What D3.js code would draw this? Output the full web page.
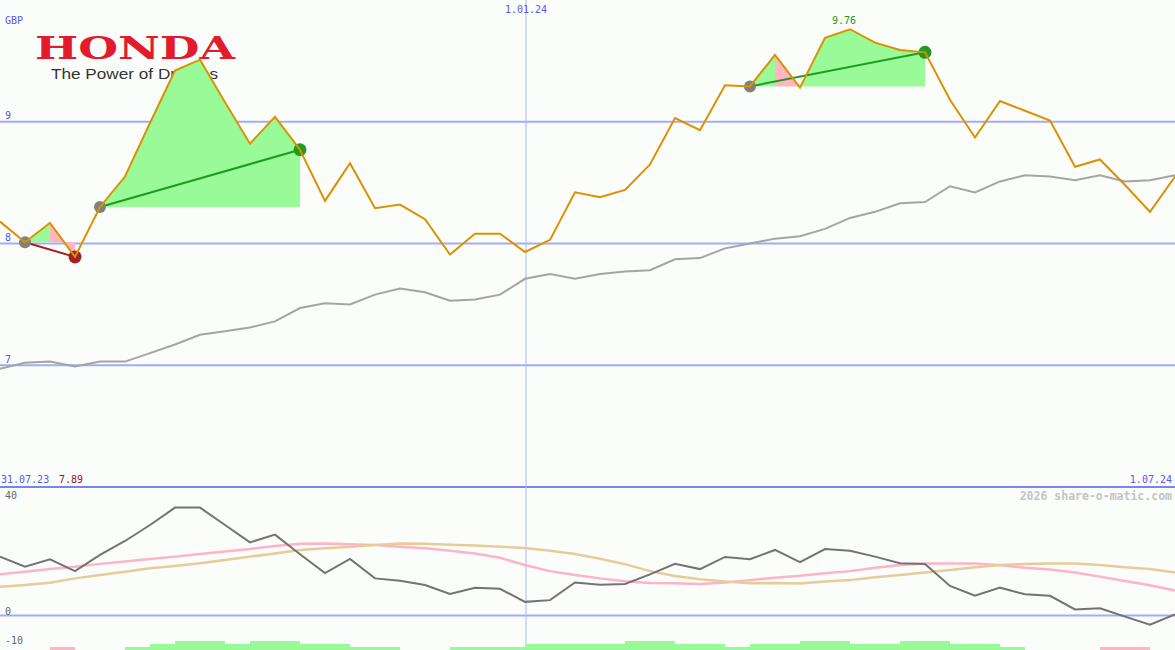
<!DOCTYPE html>
<html>
<head>
<meta charset="utf-8">
<script src="https://cdn.jsdelivr.net/npm/d3@7"></script>
<style>
  html, body { margin: 0; padding: 0; background: #fbfdfb; overflow: hidden; }
  svg { display: block; }
  text { font-family: 'DejaVu Sans Mono', monospace; font-size: 10px; }
</style>
</head>
<body>
<svg></svg>
<script>
// weekly close, GBP
const price = [8.18, 8.01, 8.17, 7.89, 8.30, 8.55, 8.99, 9.42, 9.51, 9.16, 8.82, 9.04, 8.77, 8.35, 8.66, 8.29, 8.32,
  8.20, 7.91, 8.08, 8.08, 7.93, 8.03, 8.42, 8.38, 8.44, 8.65, 9.03, 8.93, 9.30, 9.29, 9.55, 9.28,
  9.69, 9.76, 9.65, 9.59, 9.57, 9.18, 8.87, 9.17, 9.09, 9.01, 8.63, 8.69, 8.48, 8.26, 8.55]
// moving average (grey)
const average = [6.97, 7.02, 7.03, 6.99, 7.03, 7.03, 7.10, 7.17, 7.25, 7.28, 7.31, 7.36, 7.47, 7.51, 7.50, 7.58, 7.63,
  7.60, 7.53, 7.54, 7.58, 7.71, 7.75, 7.71, 7.75, 7.77, 7.78, 7.87, 7.88, 7.96, 8.00, 8.04, 8.06,
  8.12, 8.21, 8.26, 8.33, 8.34, 8.47, 8.42, 8.51, 8.56, 8.55, 8.52, 8.56, 8.51, 8.52, 8.56]
// lower panel
const momentum = [20.3, 16.8, 19.4, 15.3, 20.9, 25.7, 31.2, 37.2, 37.2, 31.2, 25.2, 27.9, 21.1, 14.6, 19.5, 12.8, 12.0,
  10.5, 7.4, 9.6, 9.2, 4.7, 5.3, 11.4, 10.6, 10.9, 14.2, 17.8, 16.0, 20.2, 19.4, 22.6, 18.4,
  22.9, 22.3, 20.3, 18.0, 17.8, 10.2, 6.8, 9.6, 7.3, 6.8, 2.1, 2.5, -0.4, -3.2, 0.4]
const fastLine = [14.2, 15.1, 16.0, 16.8, 17.8, 18.6, 19.5, 20.3, 21.2, 22.1, 22.9, 24.0, 24.7, 24.8, 24.6, 24.3, 23.7,
  23.2, 22.3, 21.4, 19.9, 17.4, 15.3, 14.0, 12.8, 11.8, 11.2, 11.1, 10.9, 11.4, 12.2, 13.0, 13.7,
  14.6, 15.3, 16.5, 17.4, 17.9, 17.9, 17.9, 17.3, 16.5, 15.9, 14.8, 13.4, 11.9, 10.4, 8.6]
const slowLine = [9.9, 10.5, 11.3, 12.8, 14.0, 15.1, 16.3, 17.1, 18.0, 19.1, 20.3, 21.4, 22.6, 23.2, 23.7, 24.3, 24.8,
  24.7, 24.4, 24.1, 23.7, 23.3, 22.3, 21.2, 19.6, 17.7, 15.3, 13.6, 12.5, 11.7, 11.1, 11.2, 11.0,
  11.7, 12.2, 13.2, 14.0, 14.8, 15.7, 16.6, 17.4, 17.8, 17.9, 17.9, 17.4, 16.6, 16.0, 14.8]
// bars between weeks (positive green, negative pink)
const histogram = [0, 0, -1, 0, 0, 1, 2, 3, 3, 2, 3, 3, 2, 2, 1, 1, 0, 0, 1, 1, 1, 2, 2, 2, 2, 3, 3, 2, 2, 1,
  2, 2, 3, 3, 2, 2, 3, 3, 2, 2, 1, 0, 0, 0, -1, -1, 0]

const priceTicks = [9, 8, 7]
const lowerTicks = [40, 0, -10]
// start / end week of each marked move
const signals = [[1, 3], [4, 12], [30, 37]]
const currency = 'GBP'
const startLabel = '31.07.23'
const midLabel = '1.01.24'
const midIndex = 21.04
const endLabel = '1.07.24'
const credit = '2026 share-o-matic.com'

const width = 1175
const height = 650
const gridColor = '#a3adf2'
const blueText = '#5858f0'

const svg = d3.select('svg').attr('width', width).attr('height', height)
svg.append('rect').attr('width', width).attr('height', height).attr('fill', '#fbfdfb')

const x = d3.scaleLinear().domain([0, price.length - 1]).range([0, width])
const yP = d3.scaleLinear().domain([6, 10]).range([487, 0])
const yL = d3.scaleLinear().domain([0, 40]).range([615.5, 499.5])
const yH = d3.scaleLinear().domain([0, 3]).range([650, 641])

// logo
svg.append('text').text('HONDA')
  .attr('x', 35).attr('y', 58.5)
  .attr('textLength', 200).attr('lengthAdjust', 'spacingAndGlyphs')
  .style('font-family', "'DejaVu Serif', serif").style('font-weight', 'bold').style('font-size', '31px')
  .attr('fill', '#e31c2d')
svg.append('text').text('The Power of Dreams')
  .attr('x', 51).attr('y', 78.5)
  .attr('textLength', 167).attr('lengthAdjust', 'spacingAndGlyphs')
  .style('font-family', "'Liberation Sans', Arial, sans-serif").style('font-size', '14px')
  .attr('fill', '#333')

// grid
priceTicks.forEach(v => {
  svg.append('line').attr('x1', 0).attr('x2', width).attr('y1', yP(v)).attr('y2', yP(v))
    .attr('stroke', gridColor).attr('stroke-width', 2)
  svg.append('text').text(v).attr('x', 5).attr('y', yP(v) - 2.5).attr('fill', blueText)
})
svg.append('line').attr('x1', 0).attr('x2', width).attr('y1', yL(0)).attr('y2', yL(0))
  .attr('stroke', gridColor).attr('stroke-width', 2)
svg.append('line').attr('x1', 0).attr('x2', width).attr('y1', yP(6)).attr('y2', yP(6))
  .attr('stroke', '#7686ee').attr('stroke-width', 2)
svg.append('line').attr('x1', x(midIndex)).attr('x2', x(midIndex)).attr('y1', 0).attr('y2', height)
  .attr('stroke', '#a8b4f6').attr('stroke-width', 1)

lowerTicks.forEach(v => {
  svg.append('text').text(v).attr('x', 5).attr('y', Math.min(yL(v) - 1, 646)).attr('fill', '#666')
})

// histogram
svg.selectAll('.bar').data(histogram).enter().append('rect')
  .attr('x', (d, i) => x(i)).attr('width', x(1) - x(0))
  .attr('y', d => yH(Math.abs(d))).attr('height', d => yH(0) - yH(Math.abs(d)))
  .attr('fill', d => d < 0 ? '#ffb6c1' : '#98fb98')

// lower lines
const lowLine = d3.line().x((d, i) => x(i)).y(d => yL(d))
svg.append('path').attr('d', lowLine(fastLine)).attr('fill', 'none').attr('stroke', '#ffb3c6').attr('stroke-width', 2.5)
svg.append('path').attr('d', lowLine(slowLine)).attr('fill', 'none').attr('stroke', '#e6cc98').attr('stroke-width', 2.5)
svg.append('path').attr('d', lowLine(momentum)).attr('fill', 'none').attr('stroke', '#737373').attr('stroke-width', 2)

// filled moves
signals.forEach(([a, b]) => {
  const base = price[a]
  const area = d3.area().x(k => x(k)).y0(yP(base)).y1(k => yP(price[k]))
  for (let i = a; i < b; i++) {
    svg.append('path').attr('d', area([i, i + 1]))
      .attr('fill', price[i + 1] >= base ? '#98fb98' : '#ffb6c1')
  }
})

// average and price
const priceLine = d3.line().x((d, i) => x(i)).y(d => yP(d))
svg.append('path').attr('d', priceLine(average)).attr('fill', 'none').attr('stroke', '#a4a4a4').attr('stroke-width', 2)

signals.forEach(([a, b]) => {
  const col = price[b] >= price[a] ? '#229a22' : '#a02222'
  svg.append('line').attr('x1', x(a)).attr('y1', yP(price[a])).attr('x2', x(b)).attr('y2', yP(price[b]))
    .attr('stroke', col).attr('stroke-width', 2)
  svg.append('circle').attr('cx', x(a)).attr('cy', yP(price[a])).attr('r', 6).attr('fill', '#808080')
  svg.append('circle').attr('cx', x(b)).attr('cy', yP(price[b])).attr('r', 6.5).attr('fill', col)
})

svg.append('path').attr('d', priceLine(price)).attr('fill', 'none').attr('stroke', '#da9200').attr('stroke-width', 2)

// labels
const hi = d3.max(price)
const lo = d3.min(price)
svg.append('text').text(hi.toFixed(2)).attr('x', x(price.indexOf(hi)) - 6).attr('y', yP(hi) - 5)
  .attr('text-anchor', 'middle').attr('fill', '#229a22')
svg.append('text').text(currency).attr('x', 5).attr('y', 24).attr('fill', blueText)
svg.append('text').text(midLabel).attr('x', x(midIndex)).attr('y', 13).attr('text-anchor', 'middle').attr('fill', blueText)
svg.append('text').text(startLabel).attr('x', 1).attr('y', 483).attr('fill', blueText)
svg.append('text').text(lo.toFixed(2)).attr('x', 59).attr('y', 483).attr('fill', '#9a1414')
svg.append('text').text(endLabel).attr('x', width - 3).attr('y', 483).attr('text-anchor', 'end').attr('fill', blueText)
svg.append('text').text(credit).attr('x', width - 3).attr('y', 500).attr('text-anchor', 'end')
  .style('font-size', '11.5px').style('font-weight', 'bold').attr('fill', '#c4c4c4')
</script>
</body>
</html>
